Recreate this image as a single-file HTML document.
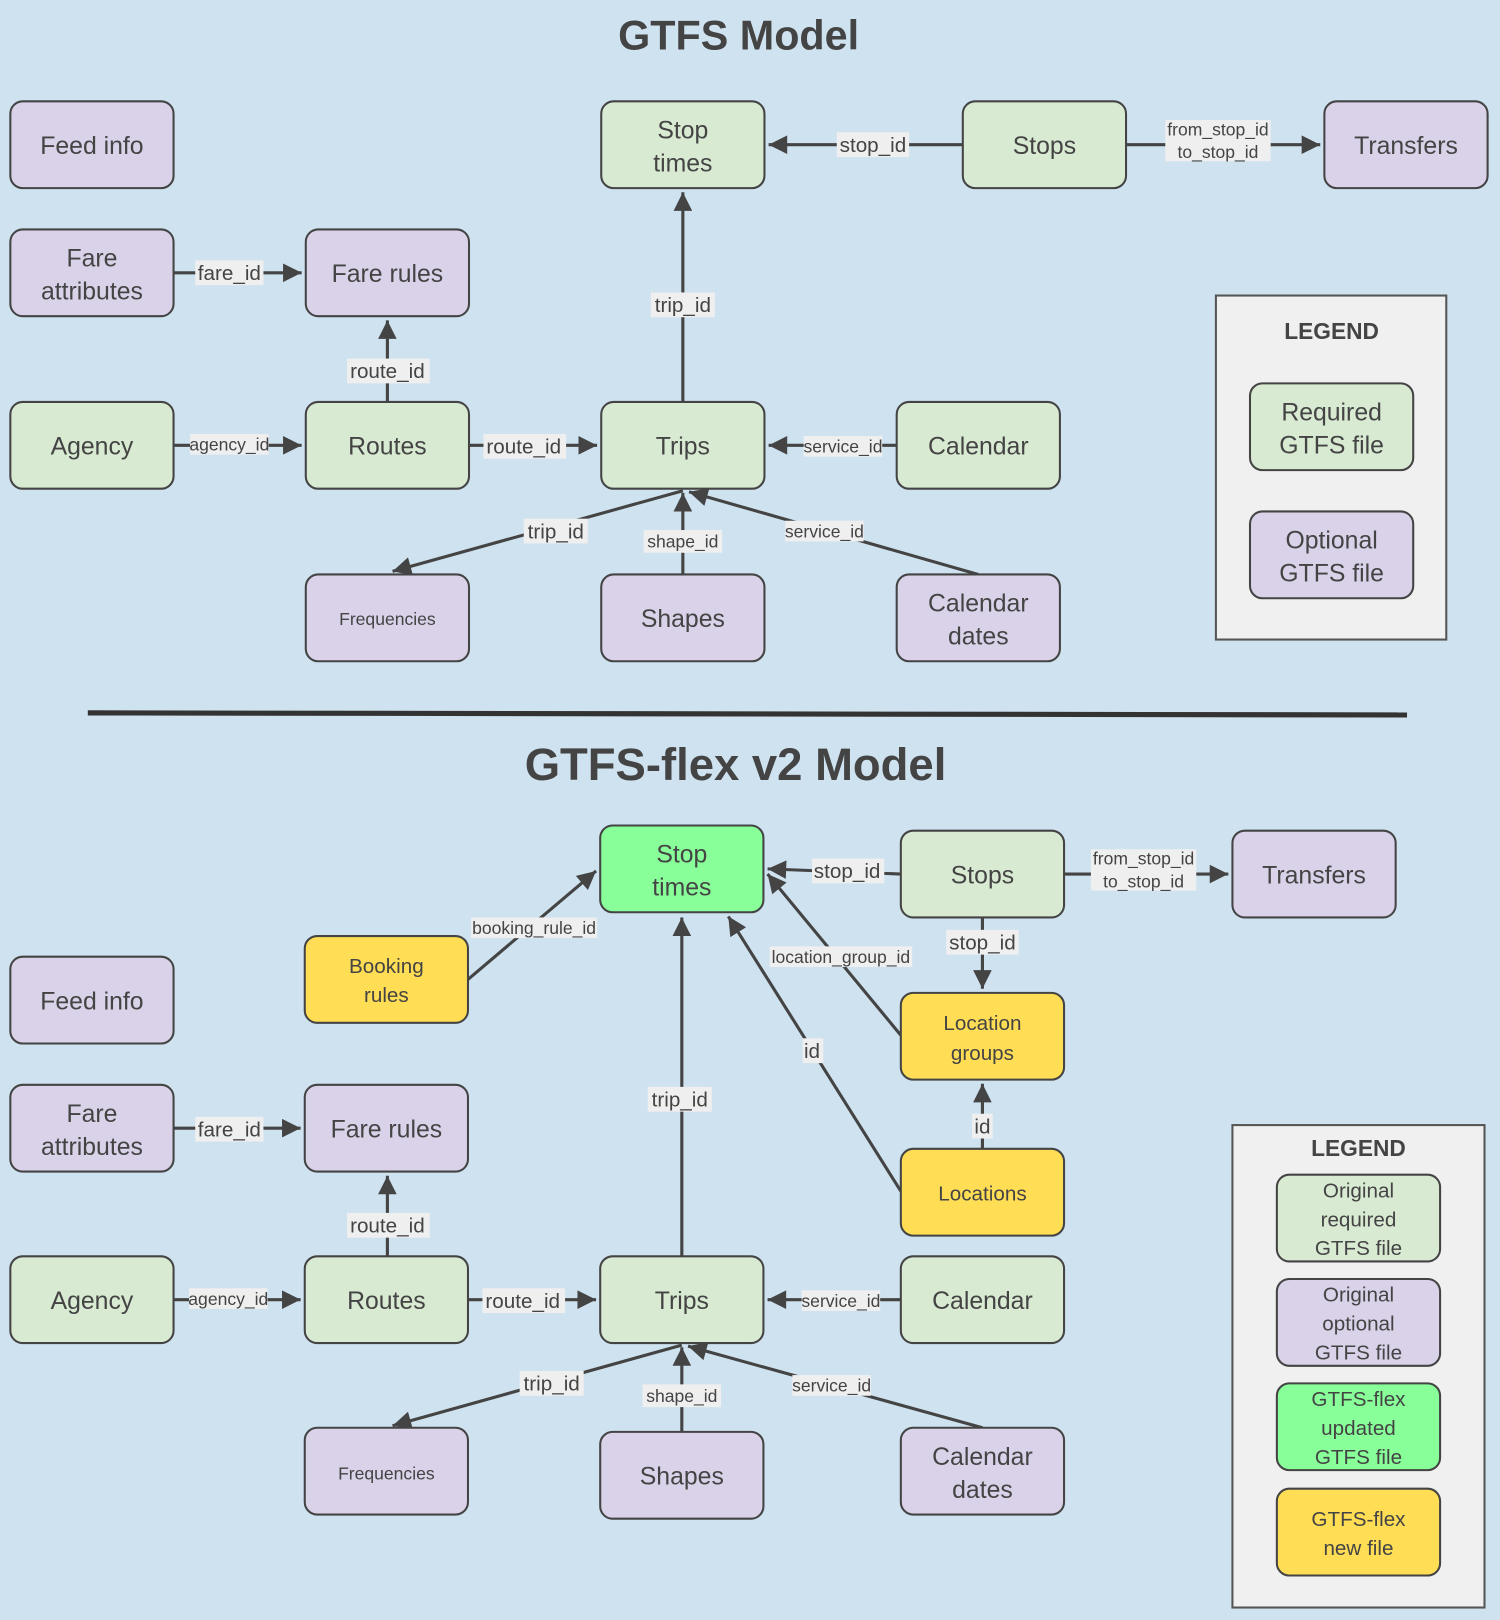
<!DOCTYPE html>
<html><head><meta charset="utf-8">
<style>
html,body{margin:0;padding:0;background:#cfe2f0;}
svg{display:block;}
text{font-family:"Liberation Sans",sans-serif;fill:#444;}
.n{stroke:#444;stroke-width:2;}
.g{fill:#d9ead3}.p{fill:#d9d2e9}.b{fill:#88ff99}.y{fill:#ffdd55}
.t{font-size:24px;text-anchor:middle;}
.s{font-size:17px;text-anchor:middle;}
.l{font-size:20px;text-anchor:middle;}
.e{stroke:#444;stroke-width:3;fill:none;}
.lb{fill:#efefef;}
</style></head><body>
<svg width="1500" height="1620" viewBox="0 0 1452 1568" xmlns="http://www.w3.org/2000/svg">
<defs>
<marker id="a" viewBox="0 0 10 10" refX="10" refY="5" markerWidth="7" markerHeight="6" orient="auto" markerUnits="strokeWidth"><path d="M0,0 L10,5 L0,10 z" fill="#444"/></marker>
</defs>
<rect width="1452" height="1568" fill="#cfe2f0"/>
<text x="715" y="48" style="font-size:40px;font-weight:bold;text-anchor:middle">GTFS Model</text>
<text x="712" y="755" style="font-size:44px;font-weight:bold;text-anchor:middle">GTFS-flex v2 Model</text>
<line x1="85" y1="690" x2="1362" y2="692" stroke="#333" stroke-width="5"/>

<!-- TOP edges -->
<g class="e">
<line x1="661" y1="389" x2="661" y2="186" marker-end="url(#a)"/>
<line x1="932" y1="140" x2="744" y2="140" marker-end="url(#a)"/>
<line x1="1090" y1="140" x2="1278" y2="140" marker-end="url(#a)"/>
<line x1="168" y1="264" x2="292" y2="264" marker-end="url(#a)"/>
<line x1="375" y1="389" x2="375" y2="310" marker-end="url(#a)"/>
<line x1="168" y1="431" x2="292" y2="431" marker-end="url(#a)"/>
<line x1="454" y1="431" x2="578" y2="431" marker-end="url(#a)"/>
<line x1="868" y1="431" x2="744" y2="431" marker-end="url(#a)"/>
<line x1="661" y1="475" x2="380" y2="553" marker-end="url(#a)"/>
<line x1="661" y1="556" x2="661" y2="477" marker-end="url(#a)"/>
<line x1="947" y1="556" x2="667" y2="476" marker-end="url(#a)"/>
</g>
<g>
<rect class="lb" x="630" y="283" width="62" height="24"/><text class="l" x="661" y="302">trip_id</text>
<rect class="lb" x="810" y="128" width="70" height="24"/><text class="l" x="845" y="147">stop_id</text>
<rect class="lb" x="1128" y="116" width="102" height="40"/><text class="s" x="1179" y="131">from_stop_id</text><text class="s" x="1179" y="153">to_stop_id</text>
<rect class="lb" x="189" y="252" width="66" height="24"/><text class="l" x="222" y="271">fare_id</text>
<rect class="lb" x="336" y="347" width="80" height="24"/><text class="l" x="375" y="366">route_id</text>
<rect class="lb" x="184" y="420" width="76" height="20"/><text class="s" x="222" y="436">agency_id</text>
<rect class="lb" x="468" y="420" width="80" height="24"/><text class="l" x="507" y="439">route_id</text>
<rect class="lb" x="778" y="422" width="76" height="20"/><text class="s" x="816" y="438">service_id</text>
<rect class="lb" x="507" y="502" width="62" height="24"/><text class="l" x="538" y="521">trip_id</text>
<rect class="lb" x="623" y="513" width="76" height="22"/><text class="s" x="661" y="530">shape_id</text>
<rect class="lb" x="760" y="504" width="76" height="20"/><text class="s" x="798" y="520">service_id</text>
</g>

<!-- TOP nodes -->
<g>
<rect class="n p" x="10" y="98" width="158" height="84" rx="12"/><text class="t" x="89" y="149">Feed info</text>
<rect class="n p" x="10" y="222" width="158" height="84" rx="12"/><text class="t" x="89" y="258">Fare</text><text class="t" x="89" y="290">attributes</text>
<rect class="n p" x="296" y="222" width="158" height="84" rx="12"/><text class="t" x="375" y="273">Fare rules</text>
<rect class="n g" x="10" y="389" width="158" height="84" rx="12"/><text class="t" x="89" y="440">Agency</text>
<rect class="n g" x="296" y="389" width="158" height="84" rx="12"/><text class="t" x="375" y="440">Routes</text>
<rect class="n g" x="582" y="389" width="158" height="84" rx="12"/><text class="t" x="661" y="440">Trips</text>
<rect class="n g" x="868" y="389" width="158" height="84" rx="12"/><text class="t" x="947" y="440">Calendar</text>
<rect class="n p" x="296" y="556" width="158" height="84" rx="12"/><text class="s" x="375" y="605">Frequencies</text>
<rect class="n p" x="582" y="556" width="158" height="84" rx="12"/><text class="t" x="661" y="607">Shapes</text>
<rect class="n p" x="868" y="556" width="158" height="84" rx="12"/><text class="t" x="947" y="592">Calendar</text><text class="t" x="947" y="624">dates</text>
<rect class="n g" x="582" y="98" width="158" height="84" rx="12"/><text class="t" x="661" y="134">Stop</text><text class="t" x="661" y="166">times</text>
<rect class="n g" x="932" y="98" width="158" height="84" rx="12"/><text class="t" x="1011" y="149">Stops</text>
<rect class="n p" x="1282" y="98" width="158" height="84" rx="12"/><text class="t" x="1361" y="149">Transfers</text>
<rect x="1177" y="286" width="223" height="333" fill="#f0f0f0" stroke="#555" stroke-width="2"/>
<text x="1289" y="328" style="font-size:22px;font-weight:bold;text-anchor:middle">LEGEND</text>
<rect class="n g" x="1210" y="371" width="158" height="84" rx="12"/><text class="t" x="1289" y="407">Required</text><text class="t" x="1289" y="439">GTFS file</text>
<rect class="n p" x="1210" y="495" width="158" height="84" rx="12"/><text class="t" x="1289" y="531">Optional</text><text class="t" x="1289" y="563">GTFS file</text>
</g>

<!-- BOTTOM edges -->
<g class="e">
<line x1="453" y1="948" x2="577" y2="843" marker-end="url(#a)"/>
<line x1="872" y1="846" x2="743" y2="841" marker-end="url(#a)"/>
<line x1="1030" y1="846" x2="1189" y2="846" marker-end="url(#a)"/>
<line x1="951" y1="888" x2="951" y2="957" marker-end="url(#a)"/>
<line x1="872" y1="1002" x2="743" y2="846" marker-end="url(#a)"/>
<line x1="872" y1="1153" x2="705" y2="887" marker-end="url(#a)"/>
<line x1="951" y1="1112" x2="951" y2="1049" marker-end="url(#a)"/>
<line x1="660" y1="1216" x2="660" y2="888" marker-end="url(#a)"/>
<line x1="168" y1="1092" x2="291" y2="1092" marker-end="url(#a)"/>
<line x1="375" y1="1216" x2="375" y2="1138" marker-end="url(#a)"/>
<line x1="168" y1="1258" x2="291" y2="1258" marker-end="url(#a)"/>
<line x1="453" y1="1258" x2="577" y2="1258" marker-end="url(#a)"/>
<line x1="872" y1="1258" x2="743" y2="1258" marker-end="url(#a)"/>
<line x1="660" y1="1302" x2="380" y2="1380" marker-end="url(#a)"/>
<line x1="660" y1="1386" x2="660" y2="1304" marker-end="url(#a)"/>
<line x1="951" y1="1382" x2="666" y2="1303" marker-end="url(#a)"/>
</g>
<g>
<rect class="lb" x="456" y="888" width="122" height="20"/><text class="s" x="517" y="904">booking_rule_id</text>
<rect class="lb" x="786" y="831" width="70" height="24"/><text class="l" x="820" y="850">stop_id</text>
<rect class="lb" x="1056" y="822" width="102" height="40"/><text class="s" x="1107" y="837">from_stop_id</text><text class="s" x="1107" y="859">to_stop_id</text>
<rect class="lb" x="916" y="900" width="70" height="24"/><text class="l" x="951" y="919">stop_id</text>
<rect class="lb" x="745" y="916" width="138" height="20"/><text class="s" x="814" y="932">location_group_id</text>
<rect class="lb" x="777" y="1005" width="20" height="24"/><text class="l" x="786" y="1024">id</text>
<rect class="lb" x="941" y="1078" width="20" height="24"/><text class="l" x="951" y="1097">id</text>
<rect class="lb" x="627" y="1052" width="62" height="24"/><text class="l" x="658" y="1071">trip_id</text>
<rect class="lb" x="189" y="1081" width="66" height="24"/><text class="l" x="222" y="1100">fare_id</text>
<rect class="lb" x="336" y="1174" width="80" height="24"/><text class="l" x="375" y="1193">route_id</text>
<rect class="lb" x="183" y="1247" width="76" height="20"/><text class="s" x="221" y="1263">agency_id</text>
<rect class="lb" x="467" y="1247" width="80" height="24"/><text class="l" x="506" y="1266">route_id</text>
<rect class="lb" x="776" y="1249" width="76" height="20"/><text class="s" x="814" y="1265">service_id</text>
<rect class="lb" x="503" y="1327" width="62" height="24"/><text class="l" x="534" y="1346">trip_id</text>
<rect class="lb" x="622" y="1340" width="76" height="22"/><text class="s" x="660" y="1357">shape_id</text>
<rect class="lb" x="767" y="1331" width="76" height="20"/><text class="s" x="805" y="1347">service_id</text>
</g>

<!-- BOTTOM nodes -->
<g>
<rect class="n b" x="581" y="799" width="158" height="84" rx="12"/><text class="t" x="660" y="835">Stop</text><text class="t" x="660" y="867">times</text>
<rect class="n g" x="872" y="804" width="158" height="84" rx="12"/><text class="t" x="951" y="855">Stops</text>
<rect class="n p" x="1193" y="804" width="158" height="84" rx="12"/><text class="t" x="1272" y="855">Transfers</text>
<rect class="n y" x="295" y="906" width="158" height="84" rx="12"/><text class="l" x="374" y="942">Booking</text><text class="l" x="374" y="970">rules</text>
<rect class="n p" x="10" y="926" width="158" height="84" rx="12"/><text class="t" x="89" y="977">Feed info</text>
<rect class="n y" x="872" y="961" width="158" height="84" rx="12"/><text class="l" x="951" y="997">Location</text><text class="l" x="951" y="1026">groups</text>
<rect class="n p" x="10" y="1050" width="158" height="84" rx="12"/><text class="t" x="89" y="1086">Fare</text><text class="t" x="89" y="1118">attributes</text>
<rect class="n p" x="295" y="1050" width="158" height="84" rx="12"/><text class="t" x="374" y="1101">Fare rules</text>
<rect class="n y" x="872" y="1112" width="158" height="84" rx="12"/><text class="l" x="951" y="1162">Locations</text>
<rect class="n g" x="10" y="1216" width="158" height="84" rx="12"/><text class="t" x="89" y="1267">Agency</text>
<rect class="n g" x="295" y="1216" width="158" height="84" rx="12"/><text class="t" x="374" y="1267">Routes</text>
<rect class="n g" x="581" y="1216" width="158" height="84" rx="12"/><text class="t" x="660" y="1267">Trips</text>
<rect class="n g" x="872" y="1216" width="158" height="84" rx="12"/><text class="t" x="951" y="1267">Calendar</text>
<rect class="n p" x="295" y="1382" width="158" height="84" rx="12"/><text class="s" x="374" y="1432">Frequencies</text>
<rect class="n p" x="581" y="1386" width="158" height="84" rx="12"/><text class="t" x="660" y="1437">Shapes</text>
<rect class="n p" x="872" y="1382" width="158" height="84" rx="12"/><text class="t" x="951" y="1418">Calendar</text><text class="t" x="951" y="1450">dates</text>
<rect x="1193" y="1089" width="244" height="467" fill="#f0f0f0" stroke="#555" stroke-width="2"/>
<text x="1315" y="1119" style="font-size:22px;font-weight:bold;text-anchor:middle">LEGEND</text>
<rect class="n g" x="1236" y="1137" width="158" height="84" rx="12"/><text class="l" x="1315" y="1159">Original</text><text class="l" x="1315" y="1187">required</text><text class="l" x="1315" y="1215">GTFS file</text>
<rect class="n p" x="1236" y="1238" width="158" height="84" rx="12"/><text class="l" x="1315" y="1260">Original</text><text class="l" x="1315" y="1288">optional</text><text class="l" x="1315" y="1316">GTFS file</text>
<rect class="n b" x="1236" y="1339" width="158" height="84" rx="12"/><text class="l" x="1315" y="1361">GTFS-flex</text><text class="l" x="1315" y="1389">updated</text><text class="l" x="1315" y="1417">GTFS file</text>
<rect class="n y" x="1236" y="1441" width="158" height="84" rx="12"/><text class="l" x="1315" y="1477">GTFS-flex</text><text class="l" x="1315" y="1505">new file</text>
</g>
</svg>
</body></html>
